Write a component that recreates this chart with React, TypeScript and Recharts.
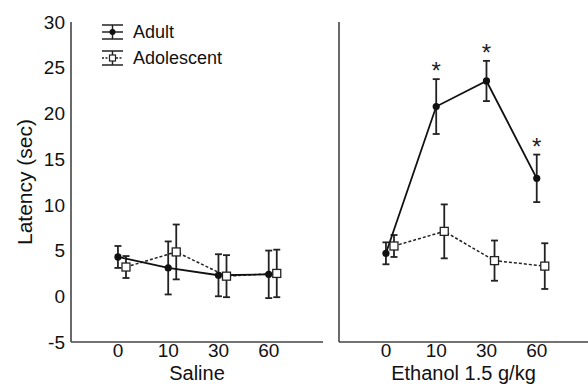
import React from "react";
import { LineChart, Line, XAxis, YAxis, ErrorBar, LabelList } from "recharts";

const categories = ["0", "10", "30", "60"];
const yTicks = [-5, 0, 5, 10, 15, 20, 25, 30];

const salineAdult = [4.3, 3.1, 2.3, 2.4];
const salineAdultErr = [1.2, 2.9, 2.3, 2.6];
const salineAdol = [3.2, 4.85, 2.2, 2.5];
const salineAdolErr = [1.2, 3.0, 2.3, 2.6];

const ethanolAdult = [4.7, 20.75, 23.55, 12.9];
const ethanolAdultErr = [1.2, 3.0, 2.2, 2.6];
const ethanolAdol = [5.5, 7.1, 3.9, 3.3];
const ethanolAdolErr = [1.2, 2.95, 2.2, 2.5];
const ethanolSig = [false, true, true, true];

const ADOL_OFFSET = 0.16;
const FONT = '"Liberation Sans", Arial, Helvetica, sans-serif';

type Row = { x: number; y: number; err: number };

const rows = (vals: number[], errs: number[], off: number): Row[] =>
  vals.map((v, i) => ({ x: i + off, y: v, err: errs[i] }));

const starRows = (vals: number[], errs: number[], sig: boolean[]) =>
  vals
    .map((v, i) => ({ x: i, star: v + errs[i], label: "*", sig: sig[i] }))
    .filter((r) => r.sig);

const SquareDot = (props: any) => {
  const { cx, cy } = props;
  if (cx == null || cy == null) return null;
  return (
    <rect x={cx - 4} y={cy - 4} width={8} height={8} fill="#fff" stroke="#222" strokeWidth={1.3} />
  );
};

const CircleDot = (props: any) => {
  const { cx, cy } = props;
  if (cx == null || cy == null) return null;
  return <circle cx={cx} cy={cy} r={3.6} fill="#111" stroke="none" />;
};

type PanelProps = {
  width: number;
  adult: Row[];
  adol: Row[];
  xDomain: [number, number];
  xLabel: string;
  showYTicks: boolean;
  stars?: any[];
  marginRight: number;
};

function Panel({ width, adult, adol, xDomain, xLabel, showYTicks, stars, marginRight }: PanelProps) {
  return (
    <LineChart width={width} height={384} margin={{ top: 22, right: marginRight, bottom: 0, left: 0 }}>
      <XAxis
        dataKey="x"
        type="number"
        domain={xDomain}
        allowDataOverflow
        ticks={[0, 1, 2, 3]}
        tickFormatter={(v: number) => categories[v]}
        tickLine={false}
        tickSize={0}
        tickMargin={2}
        height={42}
        axisLine={{ stroke: "#444", strokeWidth: 1.6 }}
        tick={{ fontSize: 19, fill: "#111" }}
        label={{ value: xLabel, position: "insideBottom", offset: 4.5, fontSize: 20, fill: "#111" }}
      />
      {showYTicks ? (
        <YAxis
          type="number"
          domain={[-5, 30]}
          allowDataOverflow
          ticks={yTicks}
          tickLine={false}
          tickSize={0}
          tickMargin={6}
          width={71}
          axisLine={{ stroke: "#444", strokeWidth: 1.6 }}
          tick={{ fontSize: 19, fill: "#111" }}
          label={{
            value: "Latency (sec)",
            angle: -90,
            position: "insideLeft",
            offset: 25,
            fontSize: 21,
            fill: "#111",
            style: { textAnchor: "middle" },
          }}
        />
      ) : (
        <YAxis
          type="number"
          domain={[-5, 30]}
          allowDataOverflow
          ticks={yTicks}
          tick={false}
          tickLine={false}
          width={9}
          axisLine={{ stroke: "#444", strokeWidth: 1.6 }}
        />
      )}
      <Line
        data={adol}
        dataKey="y"
        stroke="#222"
        strokeWidth={1.5}
        strokeDasharray="3 2"
        dot={<SquareDot />}
        activeDot={false}
        isAnimationActive={false}
      >
        <ErrorBar dataKey="err" direction="y" width={3.5} stroke="#222" strokeWidth={1.8} />
      </Line>
      <Line
        data={adult}
        dataKey="y"
        stroke="#111"
        strokeWidth={1.8}
        dot={<CircleDot />}
        activeDot={false}
        isAnimationActive={false}
      >
        <ErrorBar dataKey="err" direction="y" width={3.5} stroke="#222" strokeWidth={1.8} />
      </Line>
      {stars && (
        <Line
          data={stars}
          dataKey="star"
          stroke="none"
          dot={false}
          activeDot={false}
          legendType="none"
          isAnimationActive={false}
        >
          <LabelList dataKey="label" position="top" offset={0} fontSize={24} fill="#222" />
        </Line>
      )}
    </LineChart>
  );
}

const LegendIcon = ({ kind }: { kind: "adult" | "adol" }) => (
  <svg width={23} height={16} style={{ display: "block" }}>
    <line x1={1} y1={1} x2={22} y2={1} stroke="#222" strokeWidth={1.5} />
    <line x1={1} y1={15} x2={22} y2={15} stroke="#222" strokeWidth={1.5} />
    <line x1={11.5} y1={1} x2={11.5} y2={15} stroke="#222" strokeWidth={1.5} />
    <line
      x1={1}
      y1={8}
      x2={22}
      y2={8}
      stroke="#222"
      strokeWidth={1.5}
      strokeDasharray={kind === "adol" ? "2 1.5" : undefined}
    />
    {kind === "adult" ? (
      <circle cx={11.5} cy={8} r={3} fill="#111" />
    ) : (
      <rect x={8.5} y={5} width={6} height={6} fill="#fff" stroke="#222" strokeWidth={1.2} />
    )}
  </svg>
);

const legendItems: { kind: "adult" | "adol"; label: string }[] = [
  { kind: "adult", label: "Adult" },
  { kind: "adol", label: "Adolescent" },
];

export default function App() {
  return (
    <div
      style={{
        position: "absolute",
        left: 0,
        top: 0,
        width: 588,
        height: 384,
        background: "#fff",
        fontFamily: FONT,
        overflow: "hidden",
      }}
    >
      <div style={{ position: "absolute", left: 0, top: 0 }}>
        <Panel
          width={330}
          adult={rows(salineAdult, salineAdultErr, 0)}
          adol={rows(salineAdol, salineAdolErr, ADOL_OFFSET)}
          xDomain={[-0.934, 4.08]}
          xLabel="Saline"
          showYTicks={true}
          marginRight={7}
        />
      </div>
      <div style={{ position: "absolute", left: 330, top: 0 }}>
        <Panel
          width={258}
          adult={rows(ethanolAdult, ethanolAdultErr, 0)}
          adol={rows(ethanolAdol, ethanolAdolErr, ADOL_OFFSET)}
          xDomain={[-0.934, 4.02]}
          xLabel="Ethanol 1.5 g/kg"
          showYTicks={false}
          stars={starRows(ethanolAdult, ethanolAdultErr, ethanolSig)}
          marginRight={0}
        />
      </div>
      <div style={{ position: "absolute", left: 101, top: 24 }}>
        {legendItems.map((it, i) => (
          <div
            key={it.kind}
            style={{
              display: "flex",
              alignItems: "center",
              height: 16,
              marginBottom: i === 0 ? 10 : 0,
            }}
          >
            <LegendIcon kind={it.kind} />
            <span style={{ marginLeft: 9, fontSize: 18, lineHeight: "16px", color: "#111" }}>{it.label}</span>
          </div>
        ))}
      </div>
    </div>
  );
}
